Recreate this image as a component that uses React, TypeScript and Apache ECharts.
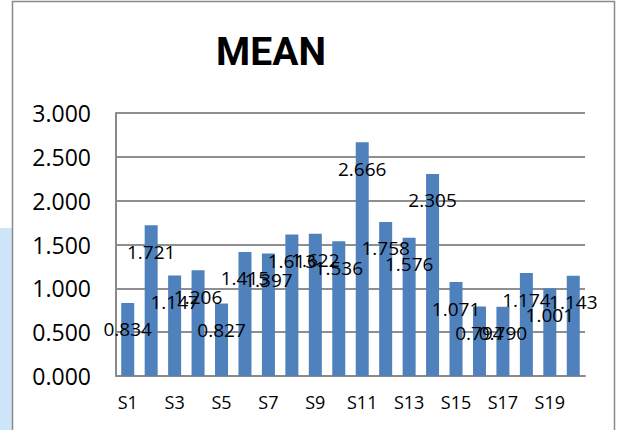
import React, { useEffect, useRef } from "react";
import * as echarts from "echarts";

const categories = ["S1","S2","S3","S4","S5","S6","S7","S8","S9","S10","S11","S12","S13","S14","S15","S16","S17","S18","S19","S20"];
const meanValues = [0.834,1.721,1.147,1.206,0.827,1.415,1.397,1.613,1.622,1.536,2.666,1.758,1.576,2.305,1.071,0.794,0.790,1.174,1.001,1.143];
const yTicks = { min: 0, max: 3, interval: 0.5 };
const titleText = "MEAN";

export default function App() {
  const ref = useRef<HTMLDivElement>(null);
  useEffect(() => {
    if (!ref.current) return;
    const chart = echarts.init(ref.current, null, { renderer: "svg" });
    chart.setOption({
      animation: false,
      backgroundColor: "#ffffff",
      title: {
        text: titleText,
        left: 266,
        top: 27,
        textAlign: "center",
        textStyle: { fontFamily: "Roboto", fontWeight: "bold", fontSize: 39, color: "#000" },
      },
      graphic: [
        { type: "rect", shape: { x: 0, y: 228, width: 12, height: 202 }, style: { fill: "#cfe6fa" }, silent: true },
        { type: "rect", shape: { x: 12.5, y: 1.5, width: 602, height: 450 }, style: { fill: "none", stroke: "#8a8a8a", lineWidth: 1.5 }, silent: true },
      ],
      grid: { left: 116, right: 32, top: 113, bottom: 54, containLabel: false },
      xAxis: {
        type: "category",
        data: categories,
        axisLine: { show: true, lineStyle: { color: "#8a8a8a", width: 2 } },
        axisTick: { show: false },
        axisLabel: { interval: 1, margin: 17, fontFamily: "Open Sans", fontSize: 18, color: "#000" },
      },
      yAxis: {
        type: "value",
        min: yTicks.min,
        max: yTicks.max,
        interval: yTicks.interval,
        axisLine: { show: true, lineStyle: { color: "#8a8a8a", width: 2 } },
        axisTick: { show: false },
        splitLine: { lineStyle: { color: "#8f8f8f", width: 2 } },
        axisLabel: {
          margin: 25,
          fontFamily: "Open Sans",
          fontSize: 23,
          color: "#000",
          formatter: (v: number) => v.toFixed(3),
        },
      },
      series: [
        {
          type: "bar",
          data: meanValues,
          barWidth: 13,
          itemStyle: { color: "#4f81bd" },
          label: {
            show: true,
            position: "insideTop",
            distance: 17,
            fontFamily: "Open Sans",
            fontSize: 19,
            lineHeight: 19,
            color: "#000",
            formatter: (p: any) => Number(p.value).toFixed(3),
          },
          labelLayout: { hideOverlap: false },
        },
      ],
    });
    return () => chart.dispose();
  }, []);
  return <div ref={ref} style={{ position: "fixed", left: 0, top: 0, width: 617, height: 430 }} />;
}
